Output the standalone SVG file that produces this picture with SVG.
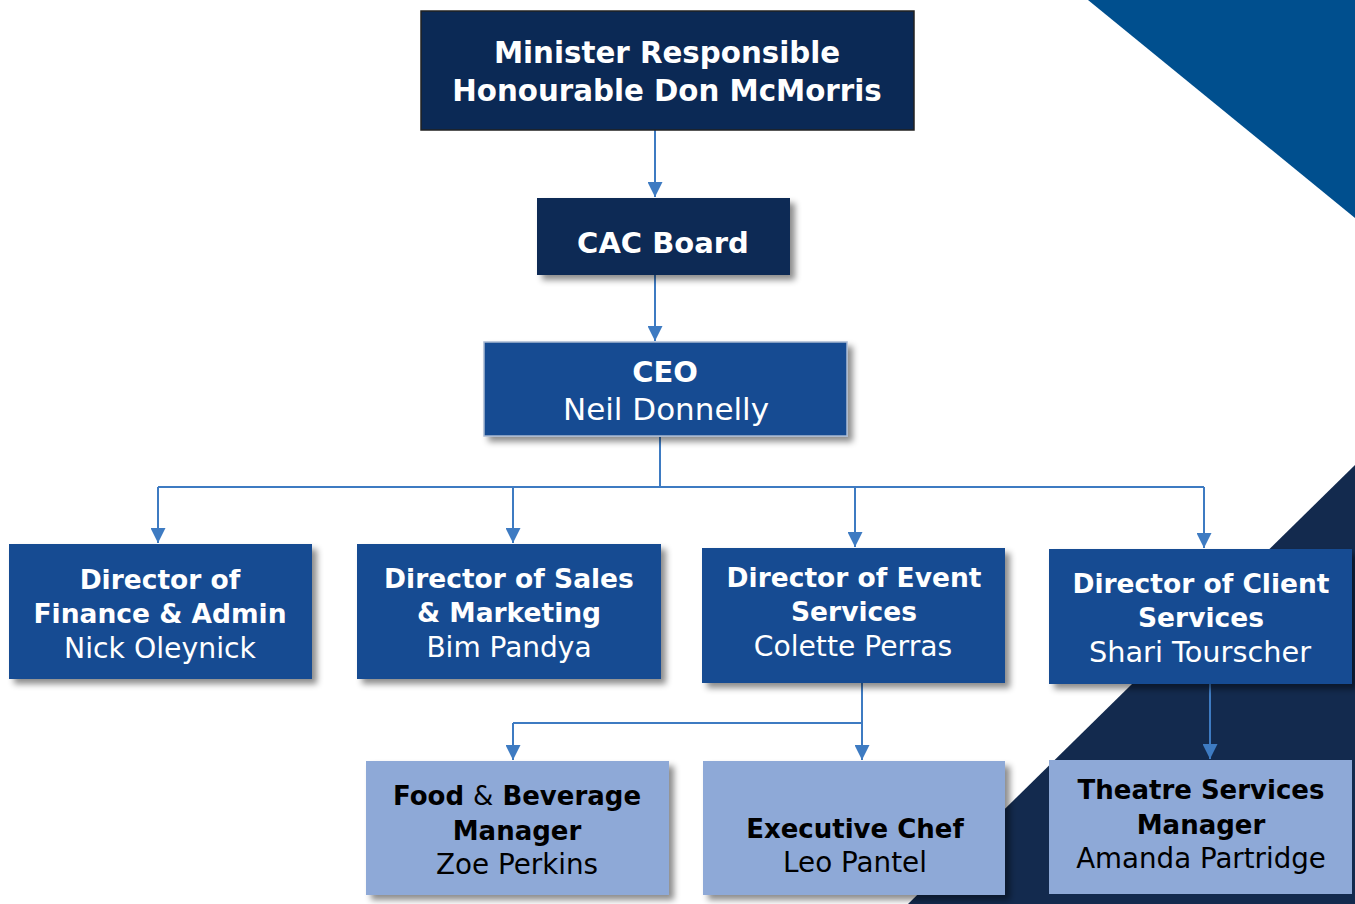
<svg xmlns="http://www.w3.org/2000/svg" width="1355" height="904" viewBox="0 0 1355 904">
<defs>
<filter id="sh" x="-10%" y="-10%" width="130%" height="140%">
<feDropShadow dx="5" dy="5" stdDeviation="3" flood-color="#000" flood-opacity="0.45"/>
</filter>
<marker id="ah" markerWidth="15" markerHeight="15" refX="15" refY="7.5" orient="auto" markerUnits="userSpaceOnUse">
<path d="M0,0 L15,7.5 L0,15 Z" fill="#3e7bc2"/>
</marker>
<style>
.navy{fill:#0b2955;}
.mid{fill:#164c92;}
.light{fill:#8ea9d7;}
text{font-family:"DejaVu Sans","Liberation Sans",sans-serif;text-anchor:middle;}
.w{fill:#fff;}
.k{fill:#000;}
.b{font-weight:bold;}
.r{font-weight:normal;}
.conn{stroke:#3e7bc2;stroke-width:2;fill:none;}
</style>
</defs>
<rect width="1355" height="904" fill="#fff"/>
<polygon points="1088,0 1355,0 1355,218" fill="#004f8e"/>
<polygon points="1355,465 1355,904 908,904" fill="#132a4e"/>

<g id="connectors">
<path class="conn" d="M655,130 V197" marker-end="url(#ah)"/>
<path class="conn" d="M655,275 V341" marker-end="url(#ah)"/>
<path class="conn" d="M660,437 V487"/>
<path class="conn" d="M158,487 H1204"/>
<path class="conn" d="M158,487 V543" marker-end="url(#ah)"/>
<path class="conn" d="M513,487 V543" marker-end="url(#ah)"/>
<path class="conn" d="M855,487 V547" marker-end="url(#ah)"/>
<path class="conn" d="M1204,487 V548" marker-end="url(#ah)"/>
<path class="conn" d="M862,683 V723"/>
<path class="conn" d="M513,723 H862"/>
<path class="conn" d="M513,723 V760" marker-end="url(#ah)"/>
<path class="conn" d="M862,723 V760" marker-end="url(#ah)"/>
<path class="conn" d="M1210,684 V759" marker-end="url(#ah)"/>
</g>

<g id="minister">
<rect class="navy" x="421" y="11" width="493" height="119" stroke="#222" stroke-width="1.5"/>
<text class="w b" x="667" y="63" font-size="29.3">Minister Responsible</text>
<text class="w b" x="667" y="101" font-size="29.3">Honourable Don McMorris</text>
</g>
<g id="board">
<rect class="navy" x="537" y="198" width="253" height="77" filter="url(#sh)"/>
<text class="w b" x="663" y="253" font-size="29">CAC Board</text>
</g>
<g id="ceo">
<rect class="mid" x="484" y="342" width="363" height="94" stroke="#a9b9d2" stroke-width="1.5" filter="url(#sh)"/>
<text class="w b" x="665" y="382" font-size="29">CEO</text>
<text class="w r" x="666" y="420" font-size="31">Neil Donnelly</text>
</g>

<g id="dir-finance">
<rect class="mid" x="9" y="544" width="303" height="135" filter="url(#sh)"/>
<text class="w b" x="160" y="589" font-size="26.5">Director of</text>
<text class="w b" x="160" y="623" font-size="26.5">Finance &amp; Admin</text>
<text class="w r" x="160" y="658" font-size="28.3">Nick Oleynick</text>
</g>
<g id="dir-sales">
<rect class="mid" x="357" y="544" width="304" height="135" filter="url(#sh)"/>
<text class="w b" x="509" y="588" font-size="26.5">Director of Sales</text>
<text class="w b" x="509" y="622" font-size="26.5">&amp; Marketing</text>
<text class="w r" x="509" y="657" font-size="28">Bim Pandya</text>
</g>
<g id="dir-event">
<rect class="mid" x="702" y="548" width="303" height="135" filter="url(#sh)"/>
<text class="w b" x="854" y="587" font-size="26.5">Director of Event</text>
<text class="w b" x="854" y="621" font-size="26.5">Services</text>
<text class="w r" x="853" y="656" font-size="28.2">Colette Perras</text>
</g>
<g id="dir-client">
<rect class="mid" x="1049" y="549" width="303" height="135" filter="url(#sh)"/>
<text class="w b" x="1201" y="593" font-size="26.5">Director of Client</text>
<text class="w b" x="1201" y="627" font-size="26.5">Services</text>
<text class="w r" x="1200" y="662" font-size="28.8">Shari Tourscher</text>
</g>

<g id="food-beverage">
<rect class="light" x="366" y="761" width="303" height="134" filter="url(#sh)"/>
<text class="k b" x="517" y="805" font-size="26">Food <tspan class="r">&amp;</tspan> Beverage</text>
<text class="k b" x="517" y="840" font-size="26">Manager</text>
<text class="k r" x="517" y="874" font-size="27.8">Zoe Perkins</text>
</g>
<g id="exec-chef">
<rect class="light" x="703" y="761" width="302" height="134" filter="url(#sh)"/>
<text class="k b" x="855" y="838" font-size="26">Executive Chef</text>
<text class="k r" x="855" y="872" font-size="27.8">Leo Pantel</text>
</g>
<g id="theatre">
<rect class="light" x="1049" y="760" width="303" height="134"/>
<text class="k b" x="1201" y="799" font-size="26">Theatre Services</text>
<text class="k b" x="1201" y="834" font-size="26">Manager</text>
<text class="k r" x="1201" y="868" font-size="27.7">Amanda Partridge</text>
</g>
</svg>
